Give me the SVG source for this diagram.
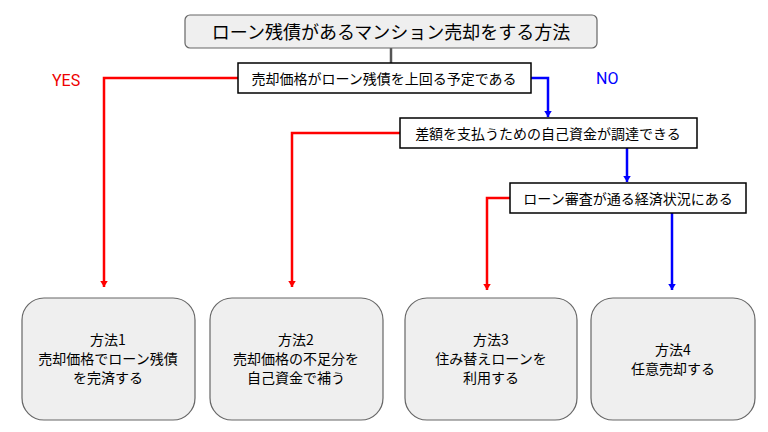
<svg xmlns="http://www.w3.org/2000/svg" width="768" height="432" viewBox="0 0 768 432">
<style>
text{font-family:"Noto Sans CJK JP","Noto Sans",sans-serif;fill:#000}
.q{fill:#fff;stroke:#000;stroke-width:1.5}
.r{fill:#efefef;stroke:#666;stroke-width:1.2}
.red{stroke:#f00;stroke-width:2.5;fill:none}
.blue{stroke:#00f;stroke-width:2.5;fill:none}
</style>
<defs>
<marker id="ar" markerWidth="8" markerHeight="10" refX="6" refY="5" orient="auto" markerUnits="userSpaceOnUse" viewBox="0 0 8 10"><path d="M0,0 L8,5 L0,10 Z" fill="#f00" transform="translate(-2,0)"/></marker>
<marker id="ab" markerWidth="8" markerHeight="10" refX="6" refY="5" orient="auto" markerUnits="userSpaceOnUse" viewBox="0 0 8 10"><path d="M0,0 L8,5 L0,10 Z" fill="#00f" transform="translate(-2,0)"/></marker>
</defs>
<rect width="768" height="432" fill="#fff"/>
<g id="connectors">
<line x1="391" y1="48" x2="391" y2="63" stroke="#555" stroke-width="2.5"/>
<path class="red" d="M238,78 H104 V287" marker-end="url(#ar)"/>
<path class="blue" d="M531,78 H548 V117" marker-end="url(#ab)"/>
<path class="red" d="M400,133 H292 V287" marker-end="url(#ar)"/>
<path class="blue" d="M627,148 V182" marker-end="url(#ab)"/>
<path class="red" d="M510,198 H487 V290" marker-end="url(#ar)"/>
<path class="blue" d="M672,213 V290" marker-end="url(#ab)"/>
</g>
<text x="52" y="86" font-size="16" style="fill:#e00;font-family:'Roboto','Liberation Sans',sans-serif">YES</text>
<text x="596" y="84" font-size="16" style="fill:#00f;font-family:'Roboto','Liberation Sans',sans-serif">NO</text>
<g id="title"><rect class="r" x="185" y="15" width="412" height="33" rx="5"/><text x="391" y="39" font-size="18" text-anchor="middle">ローン残債があるマンション売却をする方法</text></g>
<g id="q1"><rect class="q" x="238" y="63" width="293" height="30"/><text x="384" y="84" font-size="14" text-anchor="middle">売却価格がローン残債を上回る予定である</text></g>
<g id="q2"><rect class="q" x="400" y="118" width="297" height="30"/><text x="548" y="139" font-size="14" text-anchor="middle">差額を支払うための自己資金が調達できる</text></g>
<g id="q3"><rect class="q" x="510" y="183" width="236" height="30"/><text x="628" y="204" font-size="14" text-anchor="middle">ローン審査が通る経済状況にある</text></g>
<g id="m1"><rect class="r" x="22" y="298" width="173" height="122" rx="22"/><text x="108" y="345" font-size="14" text-anchor="middle">方法1</text><text x="108" y="364" font-size="14" text-anchor="middle">売却価格でローン残債</text><text x="108" y="383" font-size="14" text-anchor="middle">を完済する</text></g>
<g id="m2"><rect class="r" x="210" y="298" width="173" height="122" rx="22"/><text x="296" y="345" font-size="14" text-anchor="middle">方法2</text><text x="296" y="364" font-size="14" text-anchor="middle">売却価格の不足分を</text><text x="296" y="383" font-size="14" text-anchor="middle">自己資金で補う</text></g>
<g id="m3"><rect class="r" x="405" y="298" width="172" height="122" rx="22"/><text x="491" y="345" font-size="14" text-anchor="middle">方法3</text><text x="491" y="364" font-size="14" text-anchor="middle">住み替えローンを</text><text x="491" y="383" font-size="14" text-anchor="middle">利用する</text></g>
<g id="m4"><rect class="r" x="591" y="298" width="164" height="122" rx="22"/><text x="673" y="355" font-size="14" text-anchor="middle">方法4</text><text x="673" y="374" font-size="14" text-anchor="middle">任意売却する</text></g>
</svg>
